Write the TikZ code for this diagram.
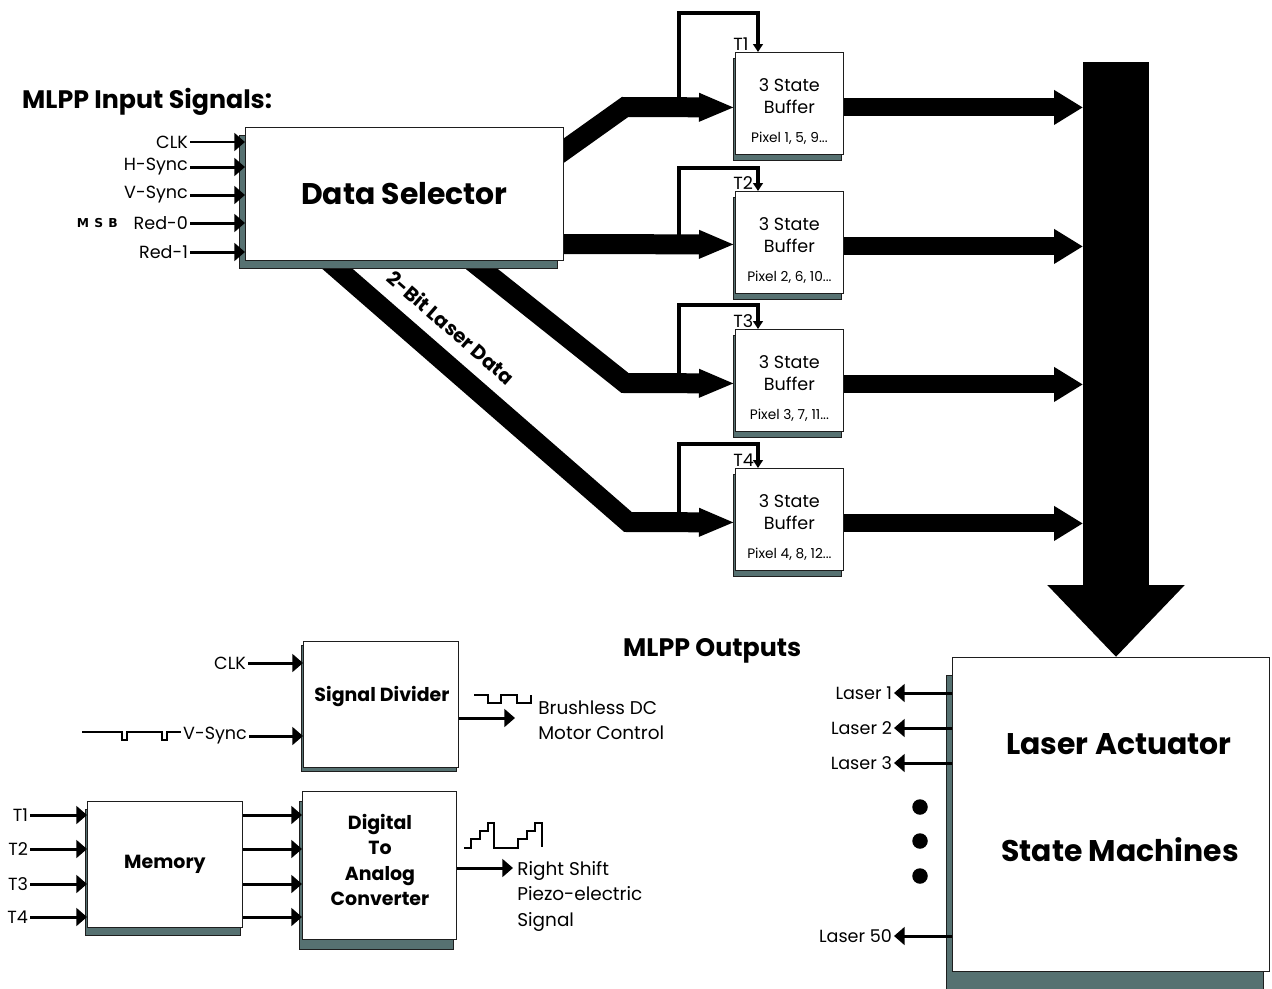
\documentclass[tikz,border=0pt]{standalone}
\usepackage{fontspec}
\setmainfont{Poppins}
\newfontfamily\msbfont{DejaVu Sans}
\usetikzlibrary{arrows.meta, positioning, shadows, backgrounds, calc}
\definecolor{slate}{RGB}{86,113,113}
\definecolor{edge}{RGB}{30,30,30}

\tikzset{
  blockbox/.style={draw=edge, fill=white, line width=0.5pt, inner sep=0pt, anchor=north west},
  boxshadow/.style 2 args={drop shadow={shadow xshift=#1, shadow yshift=#2, fill=slate, draw=edge, line width=0.4pt, opacity=1}},
  labtext/.style={font=\fontsize{10}{12}\selectfont, inner sep=1pt},
  hdtext/.style={font=\fontsize{14.4}{16}\bfseries},
  bigtext/.style={font=\fontsize{17}{20}\bfseries},
  midtext/.style={font=\fontsize{10.8}{14.4}\bfseries, align=center},
  pixtext/.style={font=\fontsize{7.8}{9}\selectfont},
  rottext/.style={font=\fontsize{11.2}{13}\bfseries},
  msbtext/.style={font=\msbfont\fontsize{7}{8}\bfseries},
  sigarrow/.style={line width=1.7pt, -{Triangle[length=6pt, width=10pt]}},
  tline/.style={line width=2.2pt, line join=miter, -{Triangle[length=4.5pt, width=5.5pt]}},
  busarrow/.style={line width=0.4cm, line join=miter, -{Triangle[length=0.72cm, width=0.52cm]}},
  fatout/.style={line width=0.36cm, -{Triangle[length=0.58cm, width=0.66cm]}},
  waveline/.style={line width=0.6pt},
  ellipsisdot/.style={circle, fill, inner sep=0pt, minimum size=0.31cm}
}

\begin{document}
\begin{tikzpicture}[x=0.02cm, y=-0.02cm]
\useasboundingbox (0,0) rectangle (1272,988);

% inputs and data selector
\node[hdtext, anchor=base west] (intitle) at (16,108) {MLPP Input Signals:};
\node[blockbox, boxshadow={-0.12cm}{-0.16cm}, minimum width=6.36cm, minimum height=2.66cm, bigtext] (ds) at (245,127) {Data Selector};
\foreach \nm/\lab/\yy in {clk/CLK/142, hs/H-Sync/167, vs/V-Sync/195, rz/Red-0/223, ro/Red-1/252}{
  \node[labtext, anchor=east] (in\nm) at (190,\yy) {\lab};
  \draw[sigarrow] (in\nm.east) -- (in\nm.east -| ds.west);
}
\node[msbtext, anchor=east] (msb) at (124,223) {M\kern3pt S\kern3pt B};

% bus to the state machines
\coordinate (bust) at (1116,62);
\coordinate (busl) at (1083,62);

% buffers
\foreach \i/\tp/\lp/\pix in {1/52/39/{1, 5, 9...}, 2/191/23/{2, 6, 10...}, 3/329/24/{3, 7, 11...}, 4/468/24/{4, 8, 12...}}{
  \node[blockbox, boxshadow={-0.04cm}{-0.12cm}, minimum width=2.16cm, minimum height=2.04cm] (buf\i) at (735,\tp) {};
  \node[labtext, align=center, font=\fontsize{10}{12.5}\selectfont] (bt\i) at ($(buf\i.north)+(0,44)$) {3 State\\Buffer};
  \node[pixtext] (px\i) at ($(buf\i.north)+(0,86)$) {Pixel \pix};
  \node[labtext, anchor=base west, inner sep=0pt] (t\i) at ($(buf\i.north west)+(-2,-2)$) {T\i};
  \draw[tline] ($(buf\i.west)+(-56,4)$) |- ($(buf\i.north west)+(23,-\lp)$) -- ($(buf\i.north west)+(23,0)$);
  \coordinate (bo\i) at ($(buf\i.east)+(0,4)$);
  \draw[fatout] (bo\i) -- (bo\i -| busl);
}

\begin{pgfonlayer}{background}
\draw[busarrow] (545,164) -- (625,107) -- ($(buf1.west)+(0,4)$);
\draw[busarrow] (550,244) -- ($(buf2.west)+(0,2)$);
\draw[busarrow] (468,258) -- (625,383) -- ($(buf3.west)+(0,3)$);
\draw[busarrow] (325,258) -- node[rottext, sloped, above=4pt, pos=0.35] (bitlab) {2-Bit Laser Data} (628,522) -- ($(buf4.west)+(0,3)$);
\end{pgfonlayer}

% laser actuator
\node[blockbox, boxshadow={-0.12cm}{-0.36cm}, minimum width=6.34cm, minimum height=6.28cm] (la) at (952,657) {};
\node[bigtext] (latop) at (1119,744) {Laser Actuator};
\node[bigtext] (labot) at (1120,850) {State Machines};
\draw[line width=1.32cm, -{Triangle[length=1.44cm, width=2.66cm]}] (bust) -- (bust |- la.north);
\foreach \n/\yy in {1/693, 2/728, 3/763, 50/936}{
  \node[labtext, anchor=east] (las\n) at (894,\yy) {Laser \n};
  \draw[sigarrow] (la.west |- las\n) -- (las\n.east);
}
\foreach \k/\yy in {1/807, 2/841, 3/876}
  \node[ellipsisdot] (dot\k) at (920,\yy) {};
\node[hdtext, anchor=base west] (outtitle) at (617,656) {MLPP Outputs};

% signal divider
\node[blockbox, boxshadow={-0.04cm}{-0.08cm}, minimum width=3.1cm, minimum height=2.52cm] (sd) at (303,641) {};
\node[midtext] (sdtxt) at (382,696) {Signal Divider};
\node[labtext, anchor=east] (sdclk) at (248,663) {CLK};
\draw[sigarrow] (sdclk.east) -- (sdclk.east -| sd.west);
\node[labtext, anchor=east] (sdvs) at (249,736) {V-Sync};
\draw[sigarrow] (sdvs.east) -- (sdvs.east -| sd.west);
\draw[waveline] (82,732) -- (122,732) -- (122,740) -- (127,740) -- (127,732) -- (162,732) -- (162,740) -- (167,740) -- (167,732) -- (sdvs.west |- 0,732);
\coordinate (bdin) at (515,718);
\draw[sigarrow] (sd.east |- bdin) -- (bdin);
\node[labtext, align=left, anchor=west, inner sep=0pt, font=\fontsize{10.5}{14.2}\selectfont] (brush) at (538,720) {Brushless DC\\Motor Control};
\draw[waveline] (474,695) -- (488,695) -- (488,703) -- (501,703) -- (501,695) -- (517,695) -- (517,703) -- (531,703) -- (531,695);

% memory and converter
\node[blockbox, boxshadow={-0.04cm}{-0.16cm}, minimum width=3.1cm, minimum height=2.52cm, midtext] (mem) at (87,801) {Memory};
\node[blockbox, boxshadow={-0.06cm}{-0.2cm}, minimum width=3.08cm, minimum height=2.96cm] (dac) at (302,791) {};
\node[midtext] (dactxt) at (380,860) {Digital\\To\\Analog\\Converter};
\foreach \i/\yy in {1/815, 2/849, 3/884, 4/917}{
  \node[labtext, anchor=east] (mt\i) at (30,\yy) {T\i};
  \draw[sigarrow] (mt\i.east) -- (mt\i.east -| mem.west);
  \draw[sigarrow] (mem.east |- mt\i) -- (mt\i -| dac.west);
}
\coordinate (pzin) at (513,868);
\draw[sigarrow] (dac.east |- pzin) -- (pzin);
\node[labtext, align=left, anchor=north west, inner sep=0pt, font=\fontsize{10.5}{14.5}\selectfont] (piezo) at (517,861) {Right Shift\\Piezo-electric\\Signal};
\draw[waveline] (464,848) -- (471,848) -- (471,839) -- (480,839) -- (480,831) -- (488,831) -- (488,823) -- (494,823) -- (494,848) -- (518,848) -- (518,839) -- (527,839) -- (527,831) -- (535,831) -- (535,823) -- (542,823) -- (542,847);
\end{tikzpicture}
\end{document}
